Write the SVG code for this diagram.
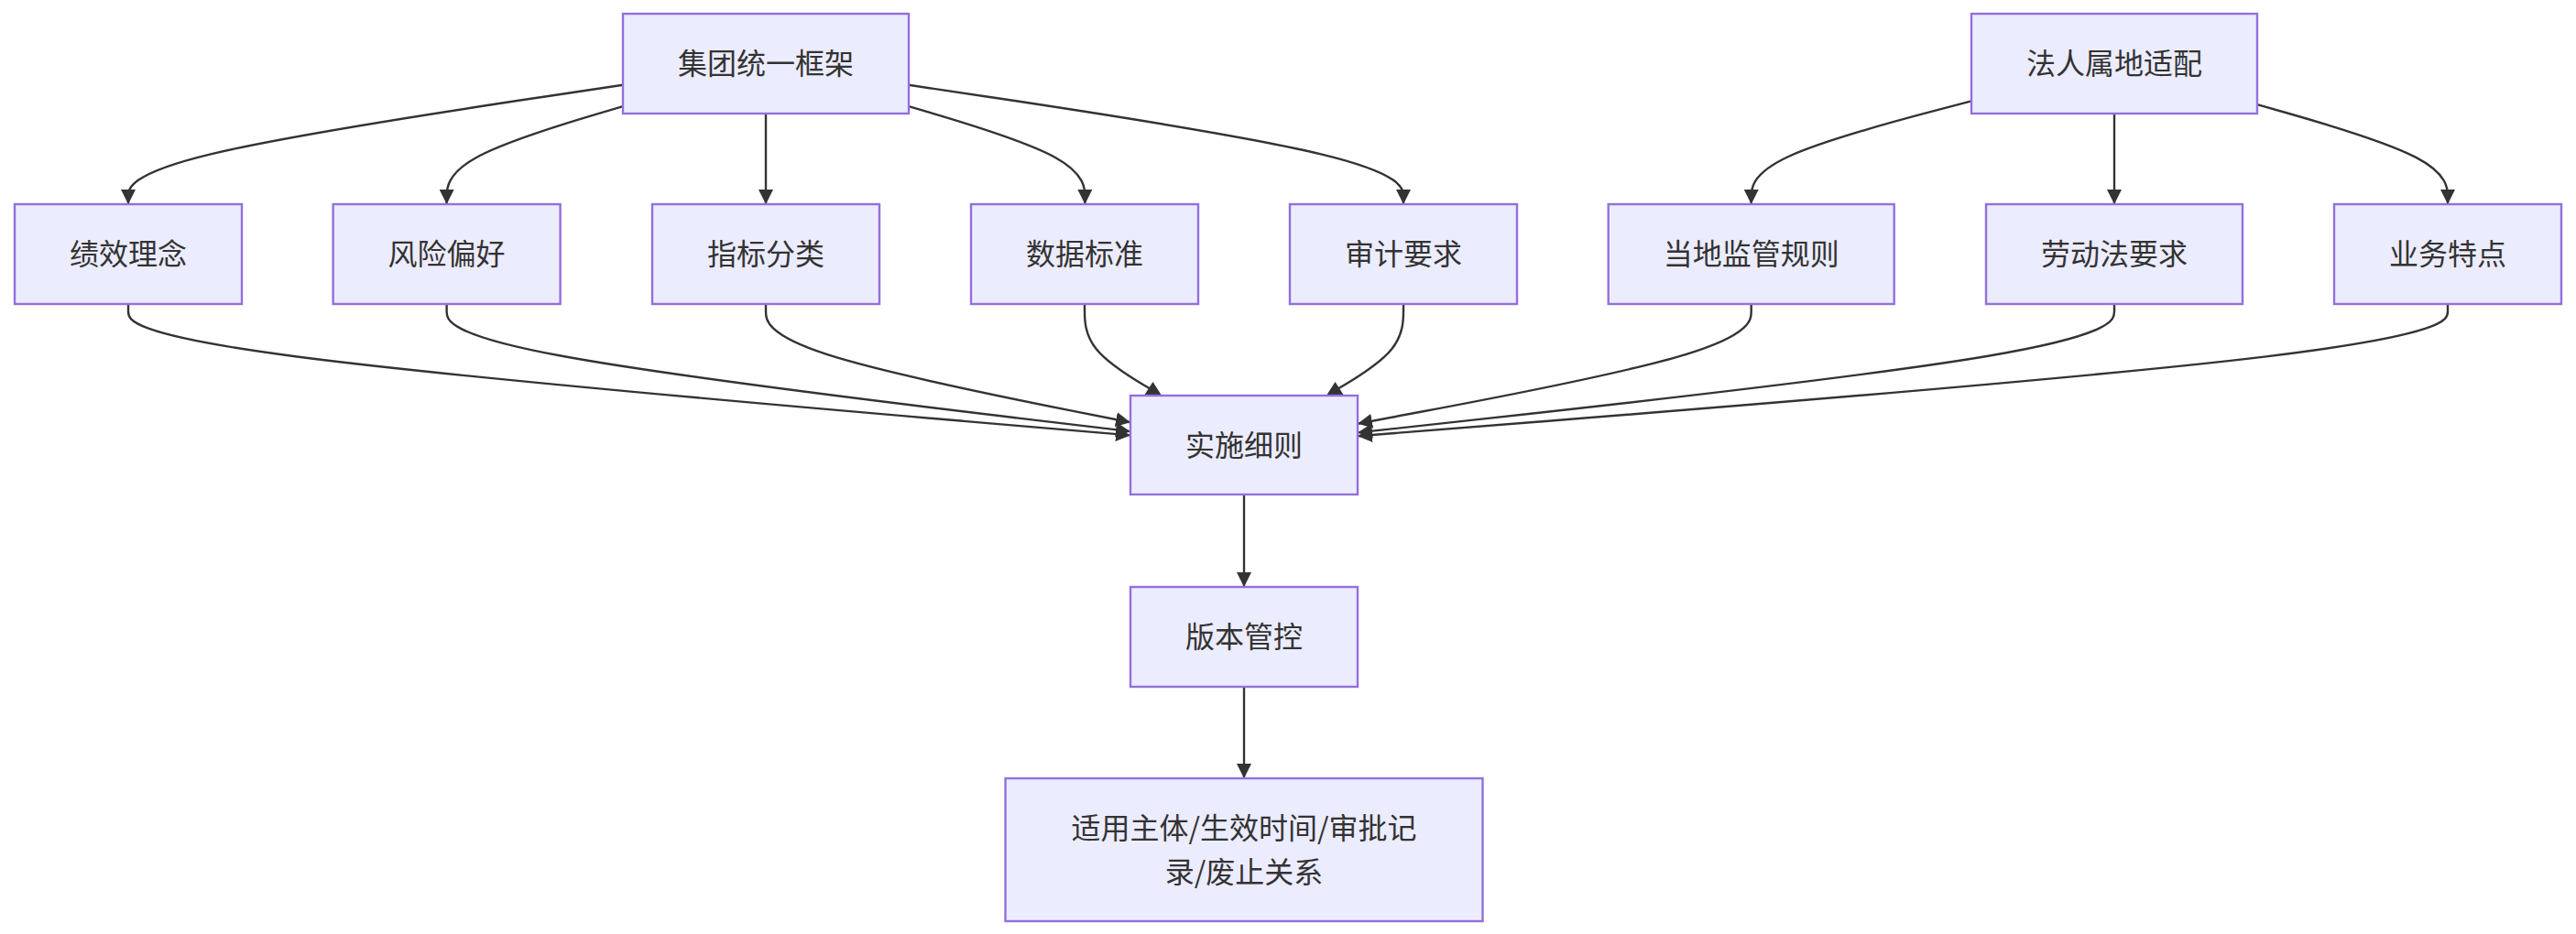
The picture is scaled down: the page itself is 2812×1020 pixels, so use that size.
<svg xmlns="http://www.w3.org/2000/svg" width="2812" height="1020" viewBox="0 0 2812 1020">
<style>
.node rect{fill:#ECECFF;stroke:#9370DB;stroke-width:2.4}
.node text{font-family:"Noto Sans CJK SC","Noto Sans",sans-serif;font-size:32px;fill:#333333;text-anchor:middle}
.edge{fill:none;stroke:#333333;stroke-width:2.4}
.arrow{fill:#333333;stroke:none}
</style>
<defs>
<marker id="arr" viewBox="0 0 10 10" refX="10" refY="5" markerUnits="userSpaceOnUse" markerWidth="16" markerHeight="16" orient="auto">
<path d="M0,0 L10,5 L0,10 z" fill="#333333"/>
</marker>
</defs>
<rect width="2812" height="1020" fill="#ffffff"/>
<g id="connectors">
<path class="edge" marker-end="url(#arr)" d="M680,92.81 L590,106.26 C500,119.71 320,146.6 230,168.3 C140,190 140,206.5 140,214.75 L140,223"/>
<path class="edge" marker-end="url(#arr)" d="M680,116.07 L647.93,125.64 C615.87,135.21 551.73,154.36 519.67,172.18 C487.6,190 487.6,206.5 487.6,214.75 L487.6,223"/>
<path class="edge" marker-end="url(#arr)" d="M836,124 L836,223"/>
<path class="edge" marker-end="url(#arr)" d="M992,116.07 L1024.07,125.64 C1056.13,135.21 1120.27,154.36 1152.33,172.18 C1184.4,190 1184.4,206.5 1184.4,214.75 L1184.4,223"/>
<path class="edge" marker-end="url(#arr)" d="M992,92.81 L1082,106.26 C1172,119.71 1352,146.6 1442,168.3 C1532,190 1532,206.5 1532,214.75 L1532,223"/>
<path class="edge" marker-end="url(#arr)" d="M2152,110.44 L2111.95,120.95 C2071.9,131.46 1991.8,152.48 1951.75,171.24 C1911.7,190 1911.7,206.5 1911.7,214.75 L1911.7,223"/>
<path class="edge" marker-end="url(#arr)" d="M2308,124 L2308,223"/>
<path class="edge" marker-end="url(#arr)" d="M2464,114.07 L2498.67,123.98 C2533.33,133.88 2602.67,153.69 2637.33,171.85 C2672,190 2672,206.5 2672,214.75 L2672,223"/>
<path class="edge" marker-end="url(#arr)" d="M140,332 L140,340.33 C140,348.67 140,365.33 322.33,389.24 C504.67,413.14 869.33,444.27 1051.67,459.84 L1234,475.41"/>
<path class="edge" marker-end="url(#arr)" d="M487.6,332 L487.6,340.33 C487.6,348.67 487.6,365.33 612,388.53 C736.4,411.73 985.2,441.45 1109.6,456.32 L1234,471.18"/>
<path class="edge" marker-end="url(#arr)" d="M836,332 L836,340.33 C836,348.67 836,365.33 902.33,386.88 C968.67,408.43 1101.33,434.87 1167.67,448.08 L1234,461.3"/>
<path class="edge" d="M1184,332 L1184,340.33 C1184,348.67 1184,365.33 1196.83,381.33 C1209.67,397.33 1235.33,412.67 1248.17,420.33 L1258,426"/>
<polygon class="arrow" points="1258.5,417 1267.5,431 1249.5,431"/>
<path class="edge" d="M1532,332 L1532,340.33 C1532,348.67 1532,365.33 1519.17,381.33 C1506.33,397.33 1480.67,412.67 1467.83,420.33 L1458,426"/>
<polygon class="arrow" points="1457.5,417 1466.5,431 1448.5,431"/>
<path class="edge" marker-end="url(#arr)" d="M1911.7,332 L1911.7,340.33 C1911.7,348.67 1911.7,365.33 1840.08,387.12 C1768.47,408.9 1625.23,435.81 1553.62,449.26 L1482,462.71"/>
<path class="edge" marker-end="url(#arr)" d="M2308,332 L2308,340.33 C2308,348.67 2308,365.33 2170.33,388.74 C2032.67,412.14 1757.33,442.29 1619.67,457.36 L1482,472.43"/>
<path class="edge" marker-end="url(#arr)" d="M2672,332 L2672,340.33 C2672,348.67 2672,365.33 2473.67,389.37 C2275.33,413.4 1878.67,444.79 1680.33,460.49 L1482,476.19"/>
<path class="edge" marker-end="url(#arr)" d="M1358,540 L1358,641"/>
<path class="edge" marker-end="url(#arr)" d="M1358,750 L1358,850"/>
</g>
<g id="n-jituan" class="node"><rect x="680" y="15" width="312" height="109"/><text x="836" y="81">集团统一框架</text></g>
<g id="n-faren" class="node"><rect x="2152" y="15" width="312" height="109"/><text x="2308" y="81">法人属地适配</text></g>
<g id="n-jixiao" class="node"><rect x="16" y="223" width="248" height="109"/><text x="140" y="289">绩效理念</text></g>
<g id="n-fengxian" class="node"><rect x="363.6" y="223" width="248" height="109"/><text x="487.6" y="289">风险偏好</text></g>
<g id="n-zhibiao" class="node"><rect x="712" y="223" width="248" height="109"/><text x="836" y="289">指标分类</text></g>
<g id="n-shuju" class="node"><rect x="1060" y="223" width="248" height="109"/><text x="1184" y="289">数据标准</text></g>
<g id="n-shenji" class="node"><rect x="1408" y="223" width="248" height="109"/><text x="1532" y="289">审计要求</text></g>
<g id="n-dangdi" class="node"><rect x="1755.7" y="223" width="312" height="109"/><text x="1911.7" y="289">当地监管规则</text></g>
<g id="n-laodong" class="node"><rect x="2168" y="223" width="280" height="109"/><text x="2308" y="289">劳动法要求</text></g>
<g id="n-yewu" class="node"><rect x="2548" y="223" width="248" height="109"/><text x="2672" y="289">业务特点</text></g>
<g id="n-shishi" class="node"><rect x="1234" y="432" width="248" height="108"/><text x="1358" y="497.5">实施细则</text></g>
<g id="n-banben" class="node"><rect x="1234" y="641" width="248" height="109"/><text x="1358" y="707">版本管控</text></g>
<g id="n-shiyong" class="node"><rect x="1097.5" y="850" width="521" height="156"/><text x="1358" y="915.5">适用主体/生效时间/审批记</text><text x="1358" y="963.5">录/废止关系</text></g>
</svg>
